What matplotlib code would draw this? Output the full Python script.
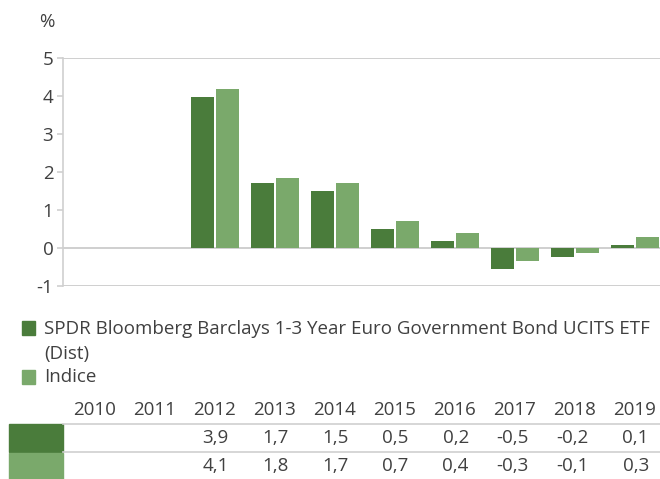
import matplotlib
matplotlib.use("Agg")
import matplotlib.pyplot as plt
from matplotlib.patches import Rectangle
from matplotlib.lines import Line2D
import matplotlib.transforms as mtransforms
import numpy as np

years = ["2010", "2011", "2012", "2013", "2014", "2015", "2016", "2017", "2018", "2019"]
fund_values = [np.nan, np.nan, 3.97, 1.72, 1.51, 0.50, 0.19, -0.55, -0.24, 0.08]
index_values = [np.nan, np.nan, 4.18, 1.83, 1.72, 0.71, 0.40, -0.34, -0.13, 0.29]
fund_table = ["", "", "3,9", "1,7", "1,5", "0,5", "0,2", "-0,5", "-0,2", "0,1"]
index_table = ["", "", "4,1", "1,8", "1,7", "0,7", "0,4", "-0,3", "-0,1", "0,3"]
series_names = ["SPDR Bloomberg Barclays 1-3 Year Euro Government Bond UCITS ETF\n(Dist)", "Indice"]
yticks = [-1, 0, 1, 2, 3, 4, 5]

DARK = "#4a7c3b"
LIGHT = "#7aa96b"
GRID = "#cfcfcf"
TXT = "#404040"
FONT = "Open Sans"
FS = 13.5
plt.rcParams["font.family"] = [FONT, "DejaVu Sans"]

W, H = 660, 479
fig = plt.figure(figsize=(W / 100, H / 100), dpi=100)

def fx(px):
    return px / W

def fy(py):
    return 1 - py / H

ax = fig.add_axes([fx(63), fy(286), fx(660) - fx(63), fy(58) - fy(286)])
x = np.arange(len(years))
bw = 0.385
ax.bar(x - 0.208, fund_values, bw, color=DARK, zorder=3)
ax.bar(x + 0.208, index_values, bw, color=LIGHT, zorder=3)
ax.set_xlim(-0.533, 9.417)
ax.set_ylim(-1, 5)
ax.set_yticks(yticks)
ax.set_yticklabels([str(t) for t in yticks], fontsize=FS, color=TXT)
ax.set_xticks([])
for s in ["top", "right", "bottom"]:
    ax.spines[s].set_visible(False)
ax.spines["left"].set_color(GRID)
ax.spines["left"].set_linewidth(1.2)
ax.tick_params(axis="y", length=4, color=GRID, width=1.2, pad=3)
for v in [5, 0, -1]:
    ax.axhline(v, color=GRID, lw=1.4, zorder=1)

fig.text(fx(39), fy(22), "%", fontsize=FS, color=TXT, ha="left", va="center")

# legend
fig.patches.append(Rectangle((fx(22), fy(335)), fx(13), fy(321) - fy(335), transform=fig.transFigure,
                             color=DARK, figure=fig))
fig.patches.append(Rectangle((fx(22), fy(384)), fx(13), fy(370) - fy(384), transform=fig.transFigure,
                             color=LIGHT, figure=fig))
fig.text(fx(44), fy(329), series_names[0].split("\n")[0], fontsize=FS, color=TXT, ha="left", va="center")
fig.text(fx(44), fy(354), series_names[0].split("\n")[1], fontsize=FS, color=TXT, ha="left", va="center")
fig.text(fx(44), fy(377), series_names[1], fontsize=FS, color=TXT, ha="left", va="center")

# table
trans = mtransforms.blended_transform_factory(ax.transData, fig.transFigure)
for i, y in enumerate(years):
    fig.text(i, fy(410), y, transform=trans, fontsize=FS, color=TXT, ha="center", va="center")
    fig.text(i + 0.23, fy(438), fund_table[i], transform=trans, fontsize=FS, color=TXT, ha="right", va="center")
    fig.text(i + 0.23, fy(466), index_table[i], transform=trans, fontsize=FS, color=TXT, ha="right", va="center")
for ly in [424, 452]:
    fig.lines.append(Line2D([fx(63), 1.0], [fy(ly), fy(ly)], transform=fig.transFigure, color=GRID, lw=1.2))
fig.patches.append(Rectangle((fx(9), fy(452)), fx(54), fy(424) - fy(452), transform=fig.transFigure,
                             color=DARK, figure=fig))
fig.patches.append(Rectangle((fx(9), fy(480)), fx(54), fy(453) - fy(480), transform=fig.transFigure,
                             color=LIGHT, figure=fig))

fig.savefig("out.png", dpi=100, facecolor="white")
